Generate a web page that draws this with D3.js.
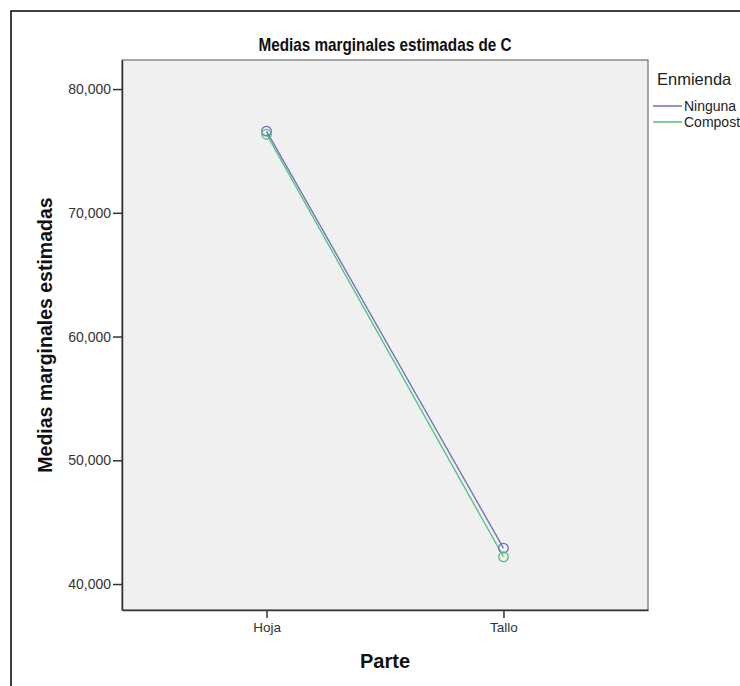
<!DOCTYPE html>
<html><head><meta charset="utf-8">
<script src="https://cdn.jsdelivr.net/npm/d3@7"></script>
<style>body{margin:0;background:#fff}svg{display:block}text{font-family:Arial,"Liberation Sans",sans-serif}</style>
</head><body>
<svg id="c" width="740" height="686"></svg>
<script>
const categories = ["Hoja", "Tallo"];
const seriesNames = ["Ninguna", "Compost"];
const ninguna = [76.6, 42.9];
const compost = [76.35, 42.2];
const yTicks = [40, 50, 60, 70, 80];
const colors = ["#6e6eb8", "#4cc27a"];

const svg = d3.select("#c");
const L = 122, R = 648, T = 60, B = 610;
const x = d3.scalePoint().domain(categories).range([L, R]).padding(0.61);
const y = d3.scaleLinear().domain([37.9, 82.35]).range([B, T]);
const FF = "Arial, 'Liberation Sans', sans-serif";

// outer frame
svg.append("rect").attr("x", 11).attr("y", 11).attr("width", 900).attr("height", 900)
  .attr("fill", "none").attr("stroke", "#000").attr("stroke-width", 1.5);

// plot area
svg.append("rect").attr("x", L).attr("y", T).attr("width", R - L).attr("height", B - T)
  .attr("fill", "#f0f0f0").attr("stroke", "#555").attr("stroke-width", 1);

// title (slightly condensed, as in the original)
svg.append("text").attr("transform", `translate(${(L + R) / 2},51) scale(0.85,1)`)
  .attr("text-anchor", "middle")
  .attr("font-size", 18).attr("font-weight", "bold").attr("fill", "#111")
  .text("Medias marginales estimadas de C");

// y axis
const yAxis = svg.append("g").attr("transform", `translate(${L},0)`)
  .call(d3.axisLeft(y).tickValues(yTicks).tickSize(9).tickSizeOuter(0).tickPadding(2)
    .tickFormat(v => d3.format(",")(v * 1000)));
yAxis.select(".domain").attr("stroke", "#333").attr("stroke-width", 1.5);
yAxis.selectAll(".tick line").attr("stroke", "#333").attr("stroke-width", 1.5);
yAxis.selectAll(".tick text").attr("font-size", 14).attr("fill", "#333").attr("font-family", FF);

// x axis
const xAxis = svg.append("g").attr("transform", `translate(0,${B})`)
  .call(d3.axisBottom(x).tickSize(8).tickSizeOuter(0).tickPadding(4));
xAxis.select(".domain").attr("stroke", "#333").attr("stroke-width", 1.5);
xAxis.selectAll(".tick line").attr("stroke", "#333").attr("stroke-width", 1.5);
xAxis.selectAll(".tick text").attr("font-size", 13.5).attr("fill", "#333").attr("font-family", FF);

// axis titles
svg.append("text").attr("x", (L + R) / 2).attr("y", 668).attr("text-anchor", "middle")
  .attr("font-size", 20).attr("font-weight", "bold").attr("fill", "#111").text("Parte");
svg.append("text").attr("transform", `translate(52,${(T + B) / 2}) rotate(-90)`)
  .attr("text-anchor", "middle").attr("font-size", 19.5).attr("font-weight", "bold").attr("fill", "#111")
  .text("Medias marginales estimadas");

// series
const series = [ninguna, compost];
const line = d3.line().x((d, i) => x(categories[i])).y(d => y(d));
series.slice().reverse().forEach((vals, ri) => {
  const si = series.length - 1 - ri;
  svg.append("path").datum(vals).attr("d", line).attr("fill", "none")
    .attr("stroke", colors[si]).attr("stroke-width", 1.3);
});
series.forEach((vals, si) => {
  svg.selectAll(null).data(vals).enter().append("circle")
    .attr("cx", (d, i) => x(categories[i])).attr("cy", d => y(d)).attr("r", 4.8)
    .attr("fill", "none").attr("stroke", colors[si]).attr("stroke-width", 1.3);
});

// legend
svg.append("text").attr("x", 657).attr("y", 85).attr("font-size", 16.5).attr("fill", "#222").text("Enmienda");
seriesNames.forEach((n, i) => {
  const yy = 106 + i * 16;
  svg.append("line").attr("x1", 653).attr("x2", 682).attr("y1", yy).attr("y2", yy)
    .attr("stroke", colors[i]).attr("stroke-width", 1.5);
  svg.append("text").attr("x", 684).attr("y", yy + 5).attr("font-size", 14).attr("fill", "#222").text(n);
});
</script>
</body></html>
